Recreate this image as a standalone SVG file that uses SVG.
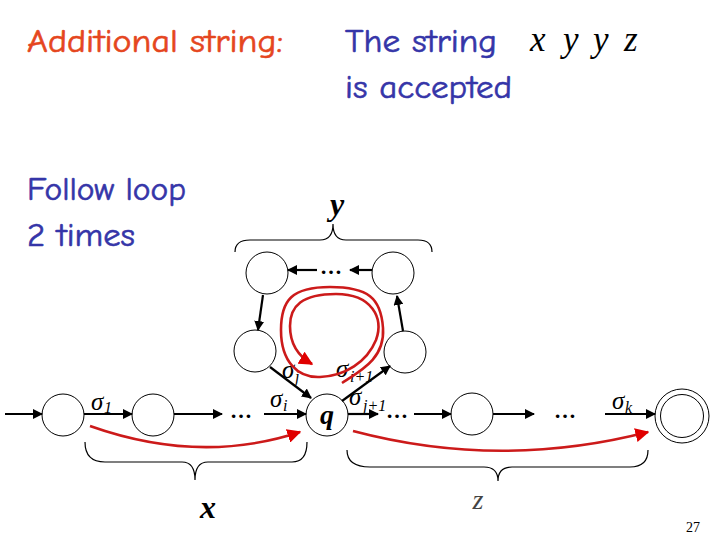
<svg xmlns="http://www.w3.org/2000/svg" width="720" height="540" viewBox="0 0 720 540">
<defs>
<marker id="ah" viewBox="0 0 10 10" refX="9" refY="5" markerWidth="10" markerHeight="10" markerUnits="userSpaceOnUse" orient="auto"><path d="M0,0 L10,5 L0,10 z" fill="#000"/></marker>
<marker id="rh" viewBox="0 0 10 10" refX="9" refY="5" markerWidth="14" markerHeight="14" markerUnits="userSpaceOnUse" orient="auto"><path d="M0,0 L10,5 L0,10 z" fill="#e00000"/></marker>
<style>
.st{fill:#fff;stroke:#000;stroke-width:1}
.e{fill:none;stroke:#000;stroke-width:2.2;marker-end:url(#ah)}
.r{fill:none;stroke:#cc1a1a;stroke-width:2.6;marker-end:url(#rh)}
.br{fill:none;stroke:#000;stroke-width:1.2}
.ti{font-family:"Comic Neue","DejaVu Sans","Open Sans",sans-serif;font-size:32px;stroke-width:0.6px}
.m{font-family:"Liberation Serif","DejaVu Serif",serif;font-style:italic}
.sg{font-family:"Liberation Serif","DejaVu Serif",serif;font-style:italic;font-size:25px}
.sub{font-family:"Liberation Serif","DejaVu Serif",serif;font-size:16px;font-style:italic}
.dots{font-family:"Liberation Serif",serif;font-size:22px;font-weight:bold}
</style>
</defs>

<g id="titles">
<text class="ti" x="27" y="52" fill="#e5461e" stroke="#e5461e" textLength="256" lengthAdjust="spacingAndGlyphs">Additional string:</text>
<text class="ti" x="345" y="52" fill="#3535a8" stroke="#3535a8" textLength="152" lengthAdjust="spacingAndGlyphs">The string</text>
<text class="ti" x="345" y="98" fill="#3535a8" stroke="#3535a8" textLength="167" lengthAdjust="spacingAndGlyphs">is accepted</text>
<text class="ti" x="27" y="200" fill="#3535a8" stroke="#3535a8" textLength="159" lengthAdjust="spacingAndGlyphs">Follow loop</text>
<text class="ti" x="27" y="246" fill="#3535a8" stroke="#3535a8" textLength="108" lengthAdjust="spacingAndGlyphs">2 times</text>
<text class="m" x="530" y="51" font-size="35">x</text>
<text class="m" x="563" y="51" font-size="35">y</text>
<text class="m" x="593" y="51" font-size="35">y</text>
<text class="m" x="624" y="51" font-size="35">z</text>
</g>

<g id="n-start"><circle class="st" cx="63" cy="415" r="21"/></g>
<g id="n-2"><circle class="st" cx="153" cy="415" r="21"/></g>
<g id="n-q"><circle class="st" cx="327" cy="415" r="21"/><text x="327" y="424" text-anchor="middle" font-family="Liberation Serif,serif" font-style="italic" font-weight="bold" font-size="28">q</text></g>
<g id="n-z1"><circle class="st" cx="472" cy="414" r="21"/></g>
<g id="n-final"><circle class="st" cx="682" cy="416" r="27"/><circle class="st" cx="682" cy="416" r="21.5"/></g>
<g id="n-tl"><circle class="st" cx="267" cy="273" r="21"/></g>
<g id="n-tr"><circle class="st" cx="393" cy="273" r="21"/></g>
<g id="n-l"><circle class="st" cx="255" cy="351" r="21"/></g>
<g id="n-r"><circle class="st" cx="405" cy="352" r="21"/></g>

<g id="connectors">
<line class="e" x1="5" y1="414" x2="42" y2="414"/>
<line class="e" x1="84" y1="414" x2="132" y2="414"/>
<line class="e" x1="174" y1="414" x2="222" y2="414"/>
<line class="e" x1="264" y1="414" x2="306" y2="414"/>
<line class="e" x1="348" y1="414" x2="378" y2="414"/>
<line class="e" x1="414" y1="414" x2="451" y2="414"/>
<line class="e" x1="493" y1="414" x2="534" y2="414"/>
<line class="e" x1="605" y1="414" x2="655" y2="414"/>
<line class="e" x1="342" y1="401" x2="390" y2="366"/>
<line class="e" x1="403" y1="331" x2="397" y2="296"/>
<line class="e" x1="372" y1="270" x2="350" y2="270"/>
<line class="e" x1="317" y1="270" x2="288" y2="270"/>
<line class="e" x1="263" y1="295" x2="258" y2="330"/>
<line class="e" x1="270" y1="367" x2="311" y2="398"/>
</g>

<g id="dots">
<text class="dots" x="241" y="418" text-anchor="middle">…</text>
<text class="dots" x="331" y="274" text-anchor="middle">…</text>
<text class="dots" x="397" y="418" text-anchor="middle">…</text>
<text class="dots" x="565" y="418" text-anchor="middle">…</text>
</g>

<g id="labels">
<text class="sg" x="91" y="410">σ</text><text class="sub" x="104" y="413" font-style="normal">1</text>
<text class="sg" x="270" y="407">σ</text><text class="sub" x="283" y="411">i</text>
<text class="sg" x="282" y="378">σ</text><text class="sub" x="295" y="382">j</text>
<text class="sg" x="336" y="377">σ</text><text class="sub" x="350" y="382">i+1</text>
<text class="sg" x="349" y="405">σ</text><text class="sub" x="363" y="411">j+1</text>
<text class="sg" x="612" y="409">σ</text><text class="sub" x="625" y="413">k</text>
</g>

<g id="braces">
<path class="br" d="M235,252 Q235,240 250,240 L320,240 Q333,240 333,224 Q333,240 346,240 L418,240 Q432,240 432,252"/>
<path class="br" d="M85,442 Q85,462 105,462 L182,462 Q195,462 195,480 Q195,462 208,462 L292,462 Q307,462 307,442"/>
<path class="br" d="M347,450 Q347,467 370,467 L484,467 Q498,467 498,481 Q498,467 512,467 L630,467 Q648,467 648,450"/>
<text class="m" x="337" y="215" font-size="32" font-weight="bold" text-anchor="middle">y</text>
<text class="m" x="208" y="518" font-size="32" font-weight="bold" text-anchor="middle">x</text>
<text class="m" x="478" y="509" font-size="28" fill="#444" text-anchor="middle">z</text>
</g>

<g id="red">
<path class="r" d="M90,426 Q200,465 300,432"/>
<path class="r" d="M353,431 Q500,470 648,432"/>
<path class="r" d="M342,383 C362,370 385,358 383,328 C381,298 368,287 330,287 C292,287 281,300 281,330 C281,362 298,378 320,377 C345,376 367,362 376,340 C384,318 372,294 336,294 C302,294 290,306 290,326 C290,344 298,356 312,364"/>
</g>

<text x="700" y="532" text-anchor="end" font-family="Liberation Serif,serif" font-size="14">27</text>
</svg>
